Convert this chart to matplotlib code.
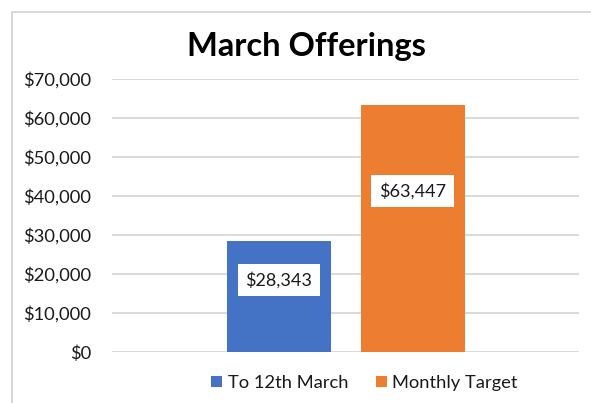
import matplotlib.pyplot as plt
from matplotlib.patches import Rectangle
from matplotlib.ticker import FuncFormatter

# data
series = ['To 12th March', 'Monthly Target']
values = [28343, 63447]
colors = ['#4472C4', '#ED7D31']

plt.rcParams['font.family'] = ['Lato', 'DejaVu Sans']

fig = plt.figure(figsize=(5.91, 4.03), dpi=100)
ax = fig.add_axes([0.1895, 0.1266, 0.7905, 0.6774])

offsets = [-0.1435, 0.1435]
width = 0.2227
for name, val, col, off in zip(series, values, colors, offsets):
    ax.bar(off, val, width=width, color=col, label=name, zorder=3)
    ax.text(off, val * 0.65, f'${val:,}', ha='center', va='center',
            fontsize=13, color='#1a1a1a', zorder=4,
            bbox=dict(boxstyle='square,pad=0.42', fc='white', ec='none'))

ax.set_xlim(-0.5, 0.5)
ax.set_ylim(0, 70000)
ax.set_yticks(range(0, 70001, 10000))
ax.yaxis.set_major_formatter(FuncFormatter(lambda v, p: f'${int(v):,}'))
ax.set_xticks([])
ax.tick_params(axis='y', length=0, pad=15, labelsize=13.2, labelcolor='#1a1a1a')
ax.grid(axis='y', color='#D9D9D9', linewidth=1.4, zorder=0)
for s in ax.spines.values():
    s.set_visible(False)

fig.text(0.5186, 0.884, 'March Offerings', ha='center', va='center',
         fontsize=23.5, fontweight='bold', color='black')

fig.legend(loc='center', bbox_to_anchor=(0.617, 0.05), ncol=2, frameon=False,
           fontsize=13.2, handlelength=0.6, handleheight=0.6,
           handletextpad=0.3, columnspacing=1.5, labelcolor='#1a1a1a')

# chart border
fig.patches.append(Rectangle((12 / 591, -0.1), 1.0, 1 - 12 / 403 + 0.1,
                             transform=fig.transFigure, fill=False,
                             ec='#D9D9D9', lw=1.5, clip_on=False))

fig.savefig('out.png', dpi=100)
